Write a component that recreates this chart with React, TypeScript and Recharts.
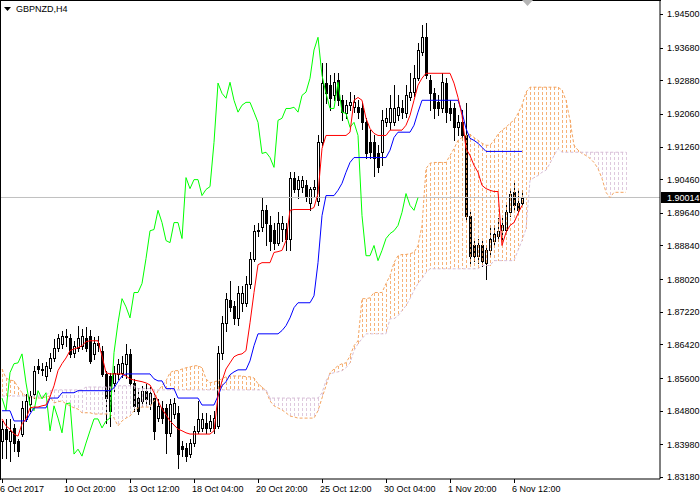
import React from 'react';
import { ComposedChart, Bar, Line, XAxis, YAxis, ReferenceLine } from 'recharts';

const SYMBOL = 'GBPNZD,H4';
const CURRENT_PRICE = 1.90014;
const TOTAL_SLOTS = 165;

const TIME_TICK_BARS = [0, 16, 32, 48, 64, 80, 96, 112, 128];
const TIME_TICK_LABELS = ['6 Oct 2017', '10 Oct 20:00', '13 Oct 12:00', '18 Oct 04:00', '20 Oct 20:00', '25 Oct 12:00', '30 Oct 04:00', '1 Nov 20:00', '6 Nov 12:00'];
const PRICE_TICKS = [1.945, 1.9368, 1.9288, 1.9206, 1.9126, 1.9046, 1.8964, 1.8884, 1.8802, 1.8722, 1.8642, 1.856, 1.848, 1.8398, 1.8318];

const OPEN = [1.8406,1.8435,1.8406,1.8438,1.8406,1.8423,1.8460,1.8497,1.8521,1.8590,1.8583,1.8565,1.8585,1.8609,1.8634,1.8644,1.8663,1.8658,1.8622,1.8634,1.8639,1.8658,1.8663,1.8619,1.8646,1.8627,1.8570,1.8565,1.8548,1.8570,1.8573,1.8595,1.8619,1.8548,1.8511,1.8504,1.8529,1.8497,1.8511,1.8462,1.8487,1.8487,1.8426,1.8472,1.8475,1.8394,1.8389,1.8374,1.8401,1.8431,1.8438,1.8450,1.8438,1.8438,1.8443,1.8622,1.8695,1.8751,1.8737,1.8707,1.8744,1.8744,1.8791,1.8852,1.8920,1.8930,1.8970,1.8935,1.8923,1.8891,1.8925,1.8925,1.8901,1.9050,1.9023,1.9026,1.9031,1.8987,1.9021,1.8994,1.9136,1.9281,1.9276,1.9251,1.9288,1.9239,1.9207,1.9227,1.9222,1.9222,1.9219,1.9185,1.9136,1.9136,1.9109,1.9112,1.9185,1.9185,1.9185,1.9202,1.9219,1.9207,1.9246,1.9259,1.9293,1.9357,1.9393,1.9288,1.9256,1.9234,1.9219,1.9281,1.9219,1.9219,1.9173,1.9185,1.9153,1.8957,1.8884,1.8859,1.8884,1.8842,1.8872,1.8896,1.8908,1.8921,1.8921,1.8965,1.9014,1.8989,1.8989];
const HIGH = [1.8455,1.8460,1.8460,1.8447,1.8412,1.8504,1.8521,1.8529,1.8590,1.8607,1.8597,1.8600,1.8622,1.8656,1.8668,1.8676,1.8680,1.8668,1.8651,1.8688,1.8680,1.8685,1.8678,1.8661,1.8663,1.8639,1.8578,1.8573,1.8590,1.8607,1.8614,1.8644,1.8631,1.8558,1.8536,1.8541,1.8546,1.8538,1.8524,1.8509,1.8504,1.8497,1.8509,1.8511,1.8492,1.8406,1.8401,1.8411,1.8443,1.8504,1.8475,1.8475,1.8470,1.8480,1.8639,1.8712,1.8769,1.8798,1.8749,1.8786,1.8786,1.8810,1.8867,1.8933,1.8940,1.9001,1.8982,1.8957,1.8940,1.8965,1.8957,1.8940,1.9063,1.9063,1.9055,1.9055,1.9043,1.9028,1.9043,1.9153,1.9330,1.9330,1.9300,1.9305,1.9305,1.9251,1.9239,1.9259,1.9251,1.9239,1.9232,1.9195,1.9166,1.9153,1.9129,1.9215,1.9219,1.9251,1.9276,1.9251,1.9239,1.9276,1.9305,1.9325,1.9379,1.9423,1.9428,1.9300,1.9268,1.9251,1.9305,1.9293,1.9239,1.9232,1.9202,1.9215,1.9232,1.8965,1.8896,1.8901,1.8896,1.8884,1.8933,1.8933,1.8952,1.8950,1.8982,1.9023,1.9038,1.9019,1.9019];
const LOW = [1.8364,1.8364,1.8357,1.8382,1.8369,1.8418,1.8455,1.8480,1.8511,1.8573,1.8568,1.8556,1.8578,1.8602,1.8627,1.8634,1.8639,1.8612,1.8612,1.8627,1.8631,1.8627,1.8597,1.8607,1.8627,1.8565,1.8450,1.8443,1.8529,1.8558,1.8563,1.8560,1.8541,1.8480,1.8472,1.8492,1.8494,1.8484,1.8411,1.8455,1.8450,1.8377,1.8418,1.8462,1.8340,1.8369,1.8357,1.8367,1.8394,1.8426,1.8431,1.8426,1.8431,1.8426,1.8438,1.8607,1.8676,1.8725,1.8693,1.8690,1.8725,1.8735,1.8780,1.8845,1.8906,1.8920,1.8884,1.8872,1.8876,1.8884,1.8896,1.8872,1.8872,1.9014,1.8999,1.9014,1.8994,1.8970,1.9006,1.8982,1.9129,1.9232,1.9215,1.9239,1.9227,1.9190,1.9195,1.9215,1.9210,1.9195,1.9170,1.9097,1.9097,1.9055,1.9063,1.9080,1.9175,1.9170,1.9178,1.9190,1.9195,1.9197,1.9239,1.9249,1.9288,1.9349,1.9293,1.9215,1.9195,1.9202,1.9210,1.9185,1.9190,1.9141,1.9153,1.9141,1.8945,1.8842,1.8847,1.8842,1.8835,1.8803,1.8859,1.8884,1.8896,1.8896,1.8913,1.8957,1.8970,1.8960,1.8982];
const CLOSE = [1.8435,1.8411,1.8431,1.8401,1.8382,1.8487,1.8504,1.8516,1.8578,1.8583,1.8580,1.8590,1.8609,1.8634,1.8658,1.8663,1.8661,1.8619,1.8639,1.8658,1.8663,1.8634,1.8602,1.8646,1.8641,1.8570,1.8511,1.8480,1.8573,1.8595,1.8597,1.8619,1.8548,1.8492,1.8480,1.8529,1.8509,1.8524,1.8431,1.8492,1.8462,1.8426,1.8497,1.8499,1.8374,1.8386,1.8369,1.8401,1.8431,1.8460,1.8460,1.8438,1.8455,1.8462,1.8622,1.8695,1.8754,1.8734,1.8707,1.8769,1.8769,1.8791,1.8852,1.8920,1.8923,1.8970,1.8940,1.8896,1.8891,1.8940,1.8940,1.8901,1.9050,1.9023,1.9045,1.9045,1.9006,1.9021,1.9028,1.9136,1.9281,1.9256,1.9244,1.9283,1.9239,1.9210,1.9227,1.9234,1.9234,1.9210,1.9185,1.9109,1.9112,1.9099,1.9075,1.9190,1.9195,1.9219,1.9219,1.9222,1.9210,1.9251,1.9259,1.9293,1.9362,1.9393,1.9300,1.9256,1.9219,1.9219,1.9283,1.9210,1.9207,1.9173,1.9185,1.9153,1.8957,1.8859,1.8859,1.8884,1.8847,1.8872,1.8901,1.8913,1.8920,1.8933,1.8965,1.9011,1.8982,1.8970,1.9001];

const TENKAN = [1.8460,1.8443,1.8435,1.8423,1.8418,1.8448,1.8460,1.8487,1.8489,1.8489,1.8492,1.8494,1.8514,1.8541,1.8578,1.8595,1.8609,1.8627,1.8631,1.8634,1.8639,1.8649,1.8651,1.8651,1.8651,1.8614,1.8573,1.8570,1.8570,1.8570,1.8570,1.8565,1.8558,1.8555,1.8553,1.8551,1.8548,1.8543,1.8524,1.8504,1.8484,1.8470,1.8455,1.8445,1.8435,1.8431,1.8426,1.8423,1.8423,1.8423,1.8423,1.8423,1.8423,1.8431,1.8516,1.8553,1.8582,1.8597,1.8612,1.8617,1.8619,1.8627,1.8695,1.8769,1.8837,1.8842,1.8842,1.8842,1.8867,1.8869,1.8872,1.8896,1.8970,1.8972,1.8972,1.8972,1.8972,1.8972,1.8977,1.9011,1.9121,1.9153,1.9153,1.9153,1.9153,1.9153,1.9153,1.9161,1.9239,1.9246,1.9239,1.9195,1.9170,1.9158,1.9153,1.9153,1.9153,1.9166,1.9166,1.9166,1.9166,1.9178,1.9202,1.9239,1.9276,1.9293,1.9305,1.9305,1.9305,1.9305,1.9305,1.9305,1.9305,1.9281,1.9246,1.9202,1.9121,1.9104,1.9080,1.9063,1.9031,1.9023,1.9019,1.9016,1.9016,1.8884,1.8916,1.8933,1.8940,1.8962,1.8982];
const KIJUN = [1.8480,1.8480,1.8480,1.8455,1.8455,1.8455,1.8455,1.8472,1.8487,1.8487,1.8487,1.8487,1.8511,1.8511,1.8511,1.8524,1.8524,1.8524,1.8524,1.8529,1.8529,1.8529,1.8529,1.8529,1.8529,1.8529,1.8529,1.8529,1.8536,1.8551,1.8565,1.8570,1.8570,1.8570,1.8570,1.8570,1.8570,1.8570,1.8558,1.8553,1.8553,1.8534,1.8534,1.8534,1.8511,1.8511,1.8511,1.8511,1.8511,1.8511,1.8494,1.8494,1.8494,1.8494,1.8516,1.8541,1.8551,1.8568,1.8575,1.8580,1.8580,1.8580,1.8602,1.8639,1.8668,1.8668,1.8668,1.8668,1.8668,1.8668,1.8676,1.8688,1.8707,1.8732,1.8744,1.8744,1.8744,1.8744,1.8761,1.8842,1.8957,1.9006,1.9006,1.9006,1.9019,1.9036,1.9063,1.9087,1.9099,1.9099,1.9099,1.9099,1.9099,1.9099,1.9099,1.9099,1.9099,1.9117,1.9148,1.9161,1.9161,1.9161,1.9161,1.9178,1.9210,1.9239,1.9239,1.9239,1.9239,1.9239,1.9239,1.9239,1.9239,1.9239,1.9239,1.9210,1.9170,1.9146,1.9141,1.9134,1.9124,1.9114,1.9114,1.9114,1.9114,1.9114,1.9114,1.9114,1.9114,1.9114,1.9114];
const CHIKOU = [1.8511,1.8480,1.8573,1.8595,1.8597,1.8619,1.8548,1.8492,1.8480,1.8529,1.8509,1.8524,1.8431,1.8492,1.8462,1.8426,1.8497,1.8499,1.8374,1.8386,1.8369,1.8401,1.8431,1.8460,1.8460,1.8438,1.8455,1.8462,1.8622,1.8695,1.8754,1.8734,1.8707,1.8769,1.8769,1.8791,1.8852,1.8920,1.8923,1.8970,1.8940,1.8896,1.8891,1.8940,1.8940,1.8901,1.9050,1.9023,1.9045,1.9045,1.9006,1.9021,1.9028,1.9136,1.9281,1.9256,1.9244,1.9283,1.9239,1.9210,1.9227,1.9234,1.9234,1.9210,1.9185,1.9109,1.9112,1.9099,1.9075,1.9190,1.9195,1.9219,1.9219,1.9222,1.9210,1.9251,1.9259,1.9293,1.9362,1.9393,1.9300,1.9256,1.9219,1.9219,1.9283,1.9210,1.9207,1.9173,1.9185,1.9153,1.8957,1.8859,1.8859,1.8884,1.8847,1.8872,1.8901,1.8913,1.8920,1.8933,1.8965,1.9011,1.8982,1.8970,1.9001];
const SPAN_A = [1.8582,1.8560,1.8555,1.8553,1.8538,1.8524,1.8516,1.8514,1.8511,1.8511,1.8511,1.8514,1.8516,1.8499,1.8502,1.8504,1.8497,1.8492,1.8487,1.8484,1.8475,1.8475,1.8475,1.8472,1.8472,1.8472,1.8472,1.8472,1.8462,1.8443,1.8455,1.8462,1.8467,1.8480,1.8487,1.8489,1.8489,1.8489,1.8504,1.8529,1.8541,1.8553,1.8573,1.8578,1.8578,1.8582,1.8585,1.8587,1.8590,1.8590,1.8585,1.8558,1.8548,1.8551,1.8553,1.8558,1.8563,1.8565,1.8565,1.8565,1.8565,1.8563,1.8563,1.8560,1.8546,1.8538,1.8529,1.8504,1.8492,1.8487,1.8482,1.8475,1.8467,1.8465,1.8462,1.8462,1.8462,1.8462,1.8462,1.8480,1.8511,1.8541,1.8573,1.8582,1.8590,1.8595,1.8597,1.8614,1.8639,1.8651,1.8754,1.8754,1.8756,1.8769,1.8769,1.8769,1.8791,1.8810,1.8842,1.8859,1.8862,1.8862,1.8864,1.8867,1.8884,1.8933,1.9072,1.9085,1.9087,1.9087,1.9087,1.9087,1.9104,1.9121,1.9141,1.9148,1.9153,1.9156,1.9148,1.9141,1.9134,1.9129,1.9129,1.9141,1.9156,1.9166,1.9173,1.9183,1.9190,1.9207,1.9227,1.9259,1.9271,1.9271,1.9271,1.9271,1.9271,1.9271,1.9271,1.9271,1.9264,1.9239,1.9190,1.9129,1.9117,1.9109,1.9104,1.9097,1.9087,1.9072,1.9048,1.9014,1.9001,1.9014,1.9014,1.9014,1.9014];
const SPAN_B = [1.8516,1.8516,1.8516,1.8516,1.8516,1.8516,1.8516,1.8516,1.8516,1.8516,1.8516,1.8516,1.8529,1.8531,1.8531,1.8531,1.8531,1.8531,1.8531,1.8531,1.8531,1.8538,1.8538,1.8538,1.8538,1.8538,1.8538,1.8538,1.8538,1.8541,1.8541,1.8541,1.8541,1.8541,1.8534,1.8534,1.8534,1.8534,1.8531,1.8531,1.8531,1.8531,1.8531,1.8531,1.8531,1.8531,1.8531,1.8531,1.8531,1.8531,1.8531,1.8531,1.8531,1.8531,1.8531,1.8531,1.8531,1.8531,1.8531,1.8531,1.8531,1.8531,1.8531,1.8531,1.8531,1.8531,1.8531,1.8511,1.8511,1.8511,1.8511,1.8511,1.8511,1.8511,1.8511,1.8511,1.8511,1.8511,1.8511,1.8511,1.8524,1.8553,1.8570,1.8573,1.8575,1.8578,1.8585,1.8597,1.8627,1.8644,1.8656,1.8668,1.8668,1.8668,1.8668,1.8668,1.8668,1.8705,1.8705,1.8712,1.8725,1.8737,1.8754,1.8774,1.8791,1.8803,1.8818,1.8827,1.8827,1.8827,1.8827,1.8827,1.8827,1.8827,1.8827,1.8827,1.8827,1.8827,1.8827,1.8827,1.8835,1.8835,1.8835,1.8847,1.8847,1.8847,1.8847,1.8847,1.8847,1.8872,1.8896,1.8925,1.9043,1.9050,1.9055,1.9063,1.9068,1.9085,1.9104,1.9121,1.9112,1.9112,1.9112,1.9112,1.9112,1.9112,1.9112,1.9112,1.9112,1.9112,1.9112,1.9112,1.9112,1.9112,1.9112,1.9112,1.9112];

const FONT = '"Liberation Sans", Arial, sans-serif';
const ORANGE = '#F4A460';
const THISTLE = '#D8BFD8';

const rows = Array.from({ length: TOTAL_SLOTS }, (_, i) => {
  const r: any = { i };
  if (i < OPEN.length) {
    r.o = OPEN[i]; r.h = HIGH[i]; r.l = LOW[i]; r.c = CLOSE[i];
    r.hl = [LOW[i], HIGH[i]];
  }
  if (i < TENKAN.length) r.ten = TENKAN[i];
  if (i < KIJUN.length) r.kij = KIJUN[i];
  if (i < CHIKOU.length) r.chi = CHIKOU[i];
  if (i < SPAN_A.length) {
    const a = SPAN_A[i], b = SPAN_B[i];
    r.sa = a; r.sb = b;
    r.cloud = [Math.min(a, b), Math.max(a, b)];
    r.bull = a >= b;
  }
  return r;
});

const Candle = (props: any) => {
  const { x, y, width, height, payload } = props;
  if (!payload || payload.o == null) return null;
  const top = Math.min(y, y + height);
  const h = Math.abs(height);
  const range = payload.h - payload.l;
  const k = range > 0 ? h / range : 0;
  const cx = Math.round(x + width / 2);
  const yO = top + (payload.h - payload.o) * k;
  const yC = top + (payload.h - payload.c) * k;
  const bt = Math.round(Math.min(yO, yC));
  const bb = Math.round(Math.max(yO, yC));
  const up = payload.c >= payload.o;
  return (
    <g>
      <line x1={cx + 0.5} x2={cx + 0.5} y1={Math.round(top)} y2={Math.round(top + h) + 1} stroke="#000" strokeWidth={1} shapeRendering="crispEdges" />
      <rect x={cx - 0.5} y={bt + 0.5} width={2} height={Math.max(bb - bt, 0)} fill={up ? '#fff' : '#000'} stroke="#000" strokeWidth={1} shapeRendering="crispEdges" />
    </g>
  );
};

const Hatch = (props: any) => {
  const { x, y, width, height, payload } = props;
  if (!payload || payload.cloud == null) return null;
  const top = Math.min(y, y + height);
  const h = Math.abs(height);
  const cx = Math.round(x + width / 2);
  return (
    <line x1={cx + 0.5} x2={cx + 0.5} y1={Math.round(top)} y2={Math.round(top + h)} stroke={payload.bull ? ORANGE : THISTLE} strokeOpacity={0.85} strokeWidth={1} strokeDasharray="3 2" shapeRendering="crispEdges" />
  );
};

const TimeTick = (props: any) => {
  const { x, y, payload } = props;
  const idx = TIME_TICK_BARS.indexOf(payload.value);
  const px = Math.round(x);
  return (
    <g>
      <line x1={px + 0.5} x2={px + 0.5} y1={y} y2={y + 4} stroke="#000" shapeRendering="crispEdges" />
      <text x={px - 2} y={y + 13} fontSize={9} fontFamily={FONT} fill="#000" textAnchor="start">{idx >= 0 ? TIME_TICK_LABELS[idx] : ''}</text>
    </g>
  );
};

const PriceTick = (props: any) => {
  const { x, y, payload } = props;
  const py = Math.round(y) + 0.5;
  return (
    <g>
      <line x1={x} x2={x + 3} y1={py} y2={py} stroke="#000" shapeRendering="crispEdges" />
      <text x={x + 7} y={y + 3.5} fontSize={9} fontFamily={FONT} fill="#000" textAnchor="start">{Number(payload.value).toFixed(5)}</text>
    </g>
  );
};

const PriceTag = (props: any) => {
  const vb = props.viewBox || {};
  const right = (vb.x || 0) + (vb.width || 0);
  const y = vb.y || 0;
  return (
    <g>
      <rect x={right + 1} y={Math.round(y) - 5} width={39} height={11} fill="#000" />
      <text x={right + 7} y={y + 3.5} fontSize={9} fontFamily={FONT} fill="#fff">{CURRENT_PRICE.toFixed(5)}</text>
    </g>
  );
};

export default function App() {
  return (
    <div style={{ position: 'absolute', left: 0, top: 0, width: 700, height: 500, background: '#fff', overflow: 'hidden' }}>
      <ComposedChart width={700} height={500} data={rows} margin={{ top: 0, right: 0, bottom: 0, left: 0 }}>
        <XAxis dataKey="i" type="category" ticks={TIME_TICK_BARS} interval={0} height={21} tickLine={false} tickSize={0} tickMargin={0} tick={<TimeTick />} axisLine={{ stroke: '#000' }} />
        <XAxis xAxisId="cloud" dataKey="i" type="category" hide />
        <YAxis orientation="right" type="number" domain={[1.83131, 1.94842]} allowDataOverflow ticks={PRICE_TICKS} interval={0} width={40} tickLine={false} tickSize={0} tickMargin={0} tick={<PriceTick />} axisLine={{ stroke: '#000' }} />
        <ReferenceLine y={CURRENT_PRICE} stroke="#c0c0c0" strokeWidth={1} label={<PriceTag />} />
        <Bar dataKey="hl" shape={<Candle />} isAnimationActive={false} />
        <Bar dataKey="cloud" xAxisId="cloud" shape={<Hatch />} isAnimationActive={false} />
        <Line dataKey="sa" stroke={ORANGE} strokeDasharray="3 2" dot={false} activeDot={false} isAnimationActive={false} strokeWidth={1} type="linear" />
        <Line dataKey="sb" stroke={THISTLE} strokeDasharray="3 2" dot={false} activeDot={false} isAnimationActive={false} strokeWidth={1} type="linear" />
        <Line dataKey="chi" stroke="#00ff00" dot={false} activeDot={false} isAnimationActive={false} strokeWidth={1} type="linear" />
        <Line dataKey="kij" stroke="#0000ff" dot={false} activeDot={false} isAnimationActive={false} strokeWidth={1} type="linear" />
        <Line dataKey="ten" stroke="#ff0000" dot={false} activeDot={false} isAnimationActive={false} strokeWidth={1} type="linear" />
      </ComposedChart>
      <svg width={700} height={500} style={{ position: 'absolute', left: 0, top: 0, pointerEvents: 'none' }}>
        <line x1={0.5} y1={0} x2={0.5} y2={480} stroke="#000" shapeRendering="crispEdges" />
        <line x1={0} y1={0.5} x2={661} y2={0.5} stroke="#000" shapeRendering="crispEdges" />
        <polygon points="4,7 11,7 7.5,11" fill="#000" />
        <text x={16} y={12} fontSize={9} fontFamily={FONT} fill="#000">{SYMBOL}</text>
        <polygon points="522,0 533,0 527.5,6" fill="#b4b4b4" />
      </svg>
    </div>
  );
}
